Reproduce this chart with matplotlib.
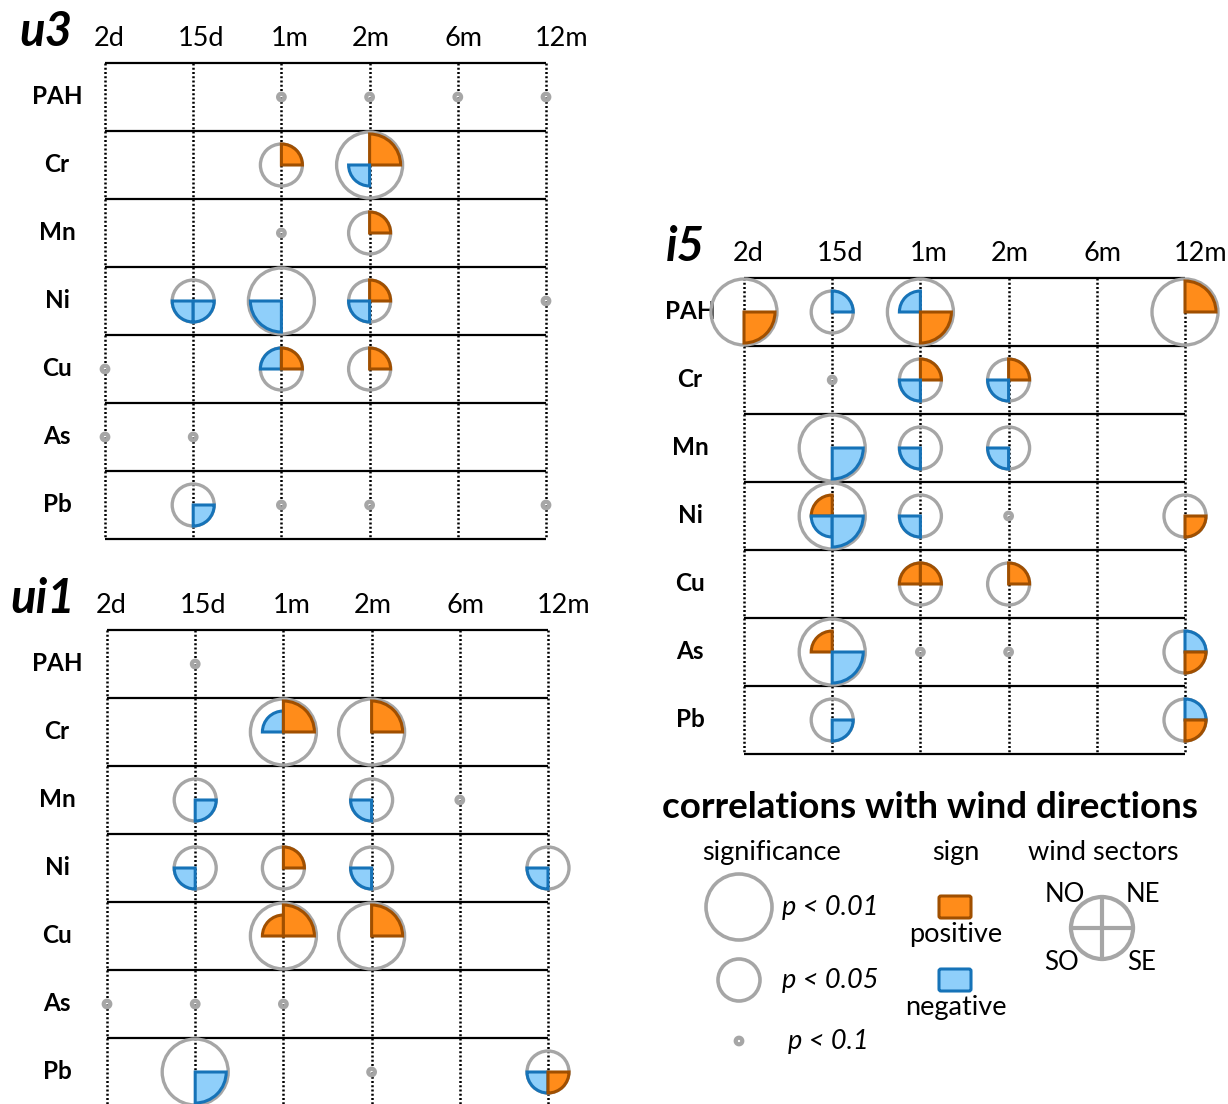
import matplotlib
matplotlib.use("Agg")
import matplotlib.pyplot as plt
from matplotlib.patches import Circle, Wedge, FancyBboxPatch

plt.rcParams['font.family'] = ['Lato', 'DejaVu Sans']

ELEMENTS = ["PAH", "Cr", "Mn", "Ni", "Cu", "As", "Pb"]
PERIODS = ["2d", "15d", "1m", "2m", "6m", "12m"]

# significant sectors: (element, period, sector, signed level)
# level 2 -> p < 0.01, level 1 -> p < 0.05, sign = sign of correlation
U3_SECTORS = [
    ("Cr", "1m", "NE", +1),
    ("Cr", "2m", "NE", +2), ("Cr", "2m", "SO", -1),
    ("Mn", "2m", "NE", +1),
    ("Ni", "15d", "SO", -1), ("Ni", "15d", "SE", -1),
    ("Ni", "1m", "SO", -2),
    ("Ni", "2m", "NE", +1), ("Ni", "2m", "SO", -1),
    ("Cu", "1m", "NO", -1), ("Cu", "1m", "NE", +1),
    ("Cu", "2m", "NE", +1),
    ("Pb", "15d", "SE", -1),
]
# cells only reaching p < 0.1
U3_WEAK = [("PAH", "1m"), ("PAH", "2m"), ("PAH", "6m"), ("PAH", "12m"),
           ("Mn", "1m"), ("Ni", "12m"), ("Cu", "2d"), ("As", "2d"),
           ("As", "15d"), ("Pb", "1m"), ("Pb", "2m"), ("Pb", "12m")]

UI1_SECTORS = [
    ("Cr", "1m", "NO", -1), ("Cr", "1m", "NE", +2),
    ("Cr", "2m", "NE", +2),
    ("Mn", "15d", "SE", -1),
    ("Mn", "2m", "SO", -1),
    ("Ni", "15d", "SO", -1),
    ("Ni", "1m", "NE", +1),
    ("Ni", "2m", "SO", -1),
    ("Ni", "12m", "SO", -1),
    ("Cu", "1m", "NO", +1), ("Cu", "1m", "NE", +2),
    ("Cu", "2m", "NE", +2),
    ("Pb", "15d", "SE", -2),
    ("Pb", "12m", "SO", -1), ("Pb", "12m", "SE", +1),
]
UI1_WEAK = [("PAH", "15d"), ("Mn", "6m"), ("As", "2d"), ("As", "15d"),
            ("As", "1m"), ("Pb", "2m")]

I5_SECTORS = [
    ("PAH", "2d", "SE", +2),
    ("PAH", "15d", "NE", -1),
    ("PAH", "1m", "NO", -1), ("PAH", "1m", "SE", +2),
    ("PAH", "12m", "NE", +2),
    ("Cr", "1m", "NE", +1), ("Cr", "1m", "SO", -1),
    ("Cr", "2m", "NE", +1), ("Cr", "2m", "SO", -1),
    ("Mn", "15d", "SE", -2),
    ("Mn", "1m", "SO", -1),
    ("Mn", "2m", "SO", -1),
    ("Ni", "15d", "NO", +1), ("Ni", "15d", "SO", -1), ("Ni", "15d", "SE", -2),
    ("Ni", "1m", "SO", -1),
    ("Ni", "12m", "SE", +1),
    ("Cu", "1m", "NO", +1), ("Cu", "1m", "NE", +1),
    ("Cu", "2m", "NE", +1),
    ("As", "15d", "NO", +1), ("As", "15d", "SE", -2),
    ("As", "12m", "NE", -1), ("As", "12m", "SE", +1),
    ("Pb", "15d", "SE", -1),
    ("Pb", "12m", "NE", -1), ("Pb", "12m", "SE", +1),
]
I5_WEAK = [("Cr", "15d"), ("Ni", "2m"), ("As", "1m"), ("As", "2m")]

# styling
W, H = 1228, 1104
DX, DY = 88.2, 68
GREY = "#a6a6a6"
POS_FACE, POS_EDGE = "#ff8c1a", "#a04f00"
NEG_FACE, NEG_EDGE = "#8fcffa", "#1673b8"
RING_R = {2: 33, 1: 21}
WEDGE_R = {2: 31, 1: 21}
DOT_R = 3.3
# angles in data space (y axis points down)
ANGLES = {"SE": (0, 90), "SO": (90, 180), "NO": (180, 270), "NE": (270, 360)}
COL_LABEL_SHIFT = [4, 8, 8, 1, 6, 16]

fig = plt.figure(figsize=(W / 100, H / 100), dpi=100)
ax = fig.add_axes([0, 0, 1, 1])
ax.set_xlim(0, W)
ax.set_ylim(H, 0)
ax.axis("off")


def draw_ring(x, y, r, lw=2.4, z=4):
    ax.add_patch(Circle((x, y), r, fill=False, edgecolor=GREY, lw=lw, zorder=z))


def draw_panel(name, x0, y0, sectors, weak, label_dx, title_dx):
    xs = [x0 + j * DX for j in range(len(PERIODS))]
    ys = [y0 + (i + 0.5) * DY for i in range(len(ELEMENTS))]
    bottom = y0 + len(ELEMENTS) * DY

    # grid
    for x in xs:
        ax.plot([x, x], [y0, bottom], color="black", lw=1.8,
                linestyle=(0, (0.8, 0.9)), zorder=2)
    for i in range(len(ELEMENTS) + 1):
        y = y0 + i * DY
        ax.plot([xs[0], xs[-1]], [y, y], color="black", lw=1.6, zorder=2,
                solid_capstyle="butt")

    # labels
    ax.text(x0 + title_dx, y0 - 17, name, ha="right", va="baseline",
            fontsize=34, fontweight="bold", fontstyle="italic")
    for j, p in enumerate(PERIODS):
        ax.text(xs[j] + COL_LABEL_SHIFT[j], y0 - 17, p, ha="center",
                va="baseline", fontsize=19.5)
    for i, e in enumerate(ELEMENTS):
        ax.text(x0 + label_dx, ys[i] + 7, e, ha="center", va="baseline",
                fontsize=17.5, fontweight="bold", zorder=1)

    # rings sized by the strongest sector of each cell
    best = {}
    for e, p, s, v in sectors:
        key = (e, p)
        best[key] = max(best.get(key, 0), abs(v))
    for (e, p), lev in best.items():
        x = xs[PERIODS.index(p)]
        y = ys[ELEMENTS.index(e)]
        draw_ring(x, y, RING_R[lev])

    for e, p, s, v in sectors:
        x = xs[PERIODS.index(p)]
        y = ys[ELEMENTS.index(e)]
        face, edge = (POS_FACE, POS_EDGE) if v > 0 else (NEG_FACE, NEG_EDGE)
        t1, t2 = ANGLES[s]
        ax.add_patch(Wedge((x, y), WEDGE_R[abs(v)], t1, t2, facecolor=face,
                           edgecolor=edge, lw=2.2, joinstyle="miter", zorder=5))

    for e, p in weak:
        draw_ring(xs[PERIODS.index(p)], ys[ELEMENTS.index(e)], DOT_R, lw=3.0)


draw_panel("u3", 105, 63, U3_SECTORS, U3_WEAK, -48, -33)
draw_panel("ui1", 107, 630, UI1_SECTORS, UI1_WEAK, -50, -32)
draw_panel("i5", 744, 278, I5_SECTORS, I5_WEAK, -54, -39)

# legend
ax.text(930, 818, "correlations with wind directions", ha="center",
        va="baseline", fontsize=26.5, fontweight="bold")
for x, s in [(771, "significance"), (956, "sign"), (1103, "wind sectors")]:
    ax.text(x, 860, s, ha="center", va="baseline", fontsize=19.5)

sig_rows = [(907, RING_R[2], "p < 0.01", 782), (980, RING_R[1], "p < 0.05", 782),
            (1041, DOT_R, "p < 0.1", 788)]
for y, r, lab, tx in sig_rows:
    draw_ring(739, y, r, lw=2.6 if r > 5 else 3.0)
    ax.text(tx, y + 8, lab, ha="left", va="baseline", fontsize=19.5,
            fontstyle="italic")

for y, face, edge, lab in [(907, POS_FACE, POS_EDGE, "positive"),
                           (980, NEG_FACE, NEG_EDGE, "negative")]:
    ax.add_patch(FancyBboxPatch((939, y - 11), 32, 22,
                                boxstyle="round,pad=0,rounding_size=2",
                                facecolor=face, edgecolor=edge, lw=2.2))
    ax.text(956, y + 35, lab, ha="center", va="baseline", fontsize=19.5)

cx, cy, cr = 1102, 928, 31
draw_ring(cx, cy, cr, lw=3)
ax.plot([cx - cr, cx + cr], [cy, cy], color=GREY, lw=3)
ax.plot([cx, cx], [cy - cr, cy + cr], color=GREY, lw=3)
for x, y, s in [(1065, 902, "NO"), (1143, 902, "NE"),
                (1062, 970, "SO"), (1142, 970, "SE")]:
    ax.text(x, y, s, ha="center", va="baseline", fontsize=18.5)

fig.savefig("out.png", dpi=100)
